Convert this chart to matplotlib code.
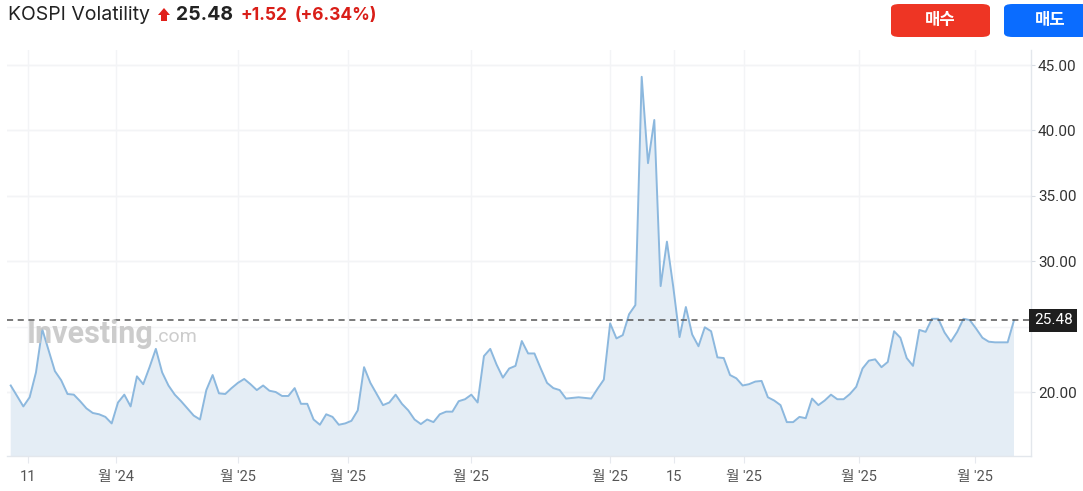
import matplotlib

matplotlib.use("Agg")

import matplotlib.pyplot as plt
from matplotlib.patches import FancyBboxPatch, Polygon
from matplotlib.transforms import blended_transform_factory

# 시리즈 값 (일별 KOSPI 변동성 지수, 그림에서 읽은 값)
values = [
    20.5, 19.7, 18.9, 19.6, 21.5, 24.8, 23.2, 21.6, 20.9, 19.85,
    19.8, 19.3, 18.75, 18.4, 18.3, 18.1, 17.6, 19.2, 19.8, 18.9,
    21.2, 20.6, 21.9, 23.3, 21.5, 20.5, 19.8, 19.3, 18.75, 18.2,
    17.9, 20.15, 21.3, 19.9, 19.85, 20.3, 20.7, 21.0, 20.6, 20.15,
    20.5, 20.1, 20.0, 19.7, 19.7, 20.3, 19.1, 19.1, 17.9, 17.5,
    18.3, 18.1, 17.5, 17.6, 17.8, 18.6, 21.9, 20.7, 19.85, 19.0,
    19.2, 19.8, 19.1, 18.6, 17.9, 17.55, 17.9, 17.7, 18.3, 18.5,
    18.5, 19.3, 19.45, 19.8, 19.2, 22.75, 23.3, 22.1, 21.1, 21.8,
    22.0, 23.9, 22.95, 22.95, 21.8, 20.7, 20.3, 20.15, 19.5, 19.55,
    19.6, 19.55, 19.5, 20.25, 20.95, 25.25, 24.1, 24.35, 25.95, 26.65,
    44.1, 37.5, 40.8, 28.1, 31.5, 28.05, 24.2, 26.5, 24.4, 23.5,
    24.95, 24.65, 22.65, 22.6, 21.3, 21.05, 20.5, 20.6, 20.8, 20.85,
    19.6, 19.35, 19.0, 17.7, 17.7, 18.1, 18.0, 19.5, 19.0, 19.35,
    19.8, 19.45, 19.45, 19.85, 20.4, 21.8, 22.4, 22.5, 21.9, 22.3,
    24.65, 24.15, 22.6, 22.0, 24.75, 24.6, 25.6, 25.6, 24.55, 23.85,
    24.6, 25.6, 25.5, 24.85, 24.15, 23.85, 23.8, 23.8, 23.8, 25.48,
]
last_price = 25.48
change_text = "+1.52"
change_pct_text = "(+6.34%)"

# x축 눈금 (데이터 인덱스 위치) 과 라벨
xtick_pos = [2.7, 16.7, 36.0, 53.5, 72.9, 95.0, 105.1, 116.2, 134.5, 152.8]
xtick_labels = ["11", "월 '24", "월 '25", "월 '25", "월 '25",
                "월 '25", "15", "월 '25", "월 '25", "월 '25"]
ytick_vals = [20, 25, 30, 35, 40, 45]
ytick_shown = [20, 30, 35, 40, 45]  # 25 자리는 현재가 라벨이 가림

plt.rcParams["font.family"] = ["Roboto", "Noto Sans CJK KR", "DejaVu Sans"]

W, H = 1083, 491
fig = plt.figure(figsize=(W / 100, H / 100), dpi=100)


def px(x, y):
    """픽셀 좌표 (좌상단 기준) -> figure 좌표"""
    return x / W, 1 - y / H


ax = fig.add_axes([7 / W, 1 - 456 / H, (1031 - 7) / W, (456 - 50) / H])

xs = list(range(len(values)))
ax.fill_between(xs, values, 0, color="#e4edf5", lw=0, zorder=1)
ax.plot(xs, values, color="#8cb8de", lw=1.4, zorder=3)

ax.set_xlim(-0.59, 161.7)
ax.set_ylim(15.11, 46.15)

ax.yaxis.tick_right()
ax.set_yticks(ytick_shown)
ax.set_yticklabels([f"{v:.2f}" for v in ytick_shown])
ax.set_xticks(xtick_pos)
ax.set_xticklabels(xtick_labels)
ax.tick_params(axis="y", length=3, width=0.8, color="#d8dde4", pad=2,
               labelsize=11, labelcolor="#333333")
ax.tick_params(axis="x", length=5, width=0.8, color="#e6e9ee", pad=5,
               labelsize=10.5, labelcolor="#555555")
ax.grid(True, color="#f3f4f6", lw=1, zorder=0)
for v in ytick_vals:
    ax.axhline(v, color="#f3f4f6", lw=1, zorder=0)
ax.set_axisbelow(True)

for side in ("left", "top"):
    ax.spines[side].set_visible(False)
for side in ("bottom", "right"):
    ax.spines[side].set_color("#e3e7ec")
    ax.spines[side].set_linewidth(1)

# 현재가 점선 + 라벨
ax.axhline(last_price, color="#555555", lw=1.1, ls=(0, (4, 3)), zorder=4)
trans = blended_transform_factory(ax.transAxes, ax.transData)
ax.text(1.003, last_price, f"{last_price:.2f}", transform=trans,
        ha="left", va="center", color="white", fontsize=11, zorder=6,
        bbox=dict(boxstyle="square,pad=0.3", fc="#1e1e1e", ec="none"),
        clip_on=False)

# 워터마크
fig.text(*px(27, 334), "Investing", fontsize=22, fontweight="bold",
         color="#c4c4c4", alpha=0.85, ha="left", va="center", zorder=2)
fig.text(*px(154, 337), ".com", fontsize=14, color="#c4c4c4",
         alpha=0.85, ha="left", va="center", zorder=2)

# 제목줄
title_font = ["Inter", "DejaVu Sans"]
fig.text(*px(8, 15), "KOSPI Volatility", fontsize=14, color="#222222",
         ha="left", va="center", family=title_font)
arrow = [px(158, 15), px(164, 8), px(170, 15), px(167, 15),
         px(167, 21), px(161, 21), px(161, 15)]
fig.patches.append(Polygon(arrow, closed=True, transform=fig.transFigure,
                           fc="#e0201a", ec="none"))
fig.text(*px(176, 15), f"{last_price:.2f}", fontsize=14, fontweight="bold",
         color="#222222", ha="left", va="center", family=title_font)
fig.text(*px(241, 15), change_text, fontsize=12.5, fontweight="bold",
         color="#d91e18", ha="left", va="center", family=title_font)
fig.text(*px(295, 15), change_pct_text, fontsize=12.5, fontweight="bold",
         color="#d91e18", ha="left", va="center", family=title_font)

# 매수 / 매도 버튼 (오른쪽 버튼은 그림 밖으로 잘림)
buttons = [(891, 990, 940, "#ee3524", "매수"),
           (1004, 1090, 1050, "#0a6cff", "매도")]
for x0, x1, tx, color, label in buttons:
    bx, by = px(x0, 37)
    fig.patches.append(FancyBboxPatch((bx, by), (x1 - x0) / W, 33 / H,
                                      boxstyle="round,pad=0,rounding_size=0.008",
                                      transform=fig.transFigure,
                                      fc=color, ec="none"))
    fig.text(*px(tx, 20), label, fontsize=12, fontweight="bold",
             color="white", ha="center", va="center",
             family=["Noto Sans CJK KR"])

fig.savefig("out.png", dpi=100)
